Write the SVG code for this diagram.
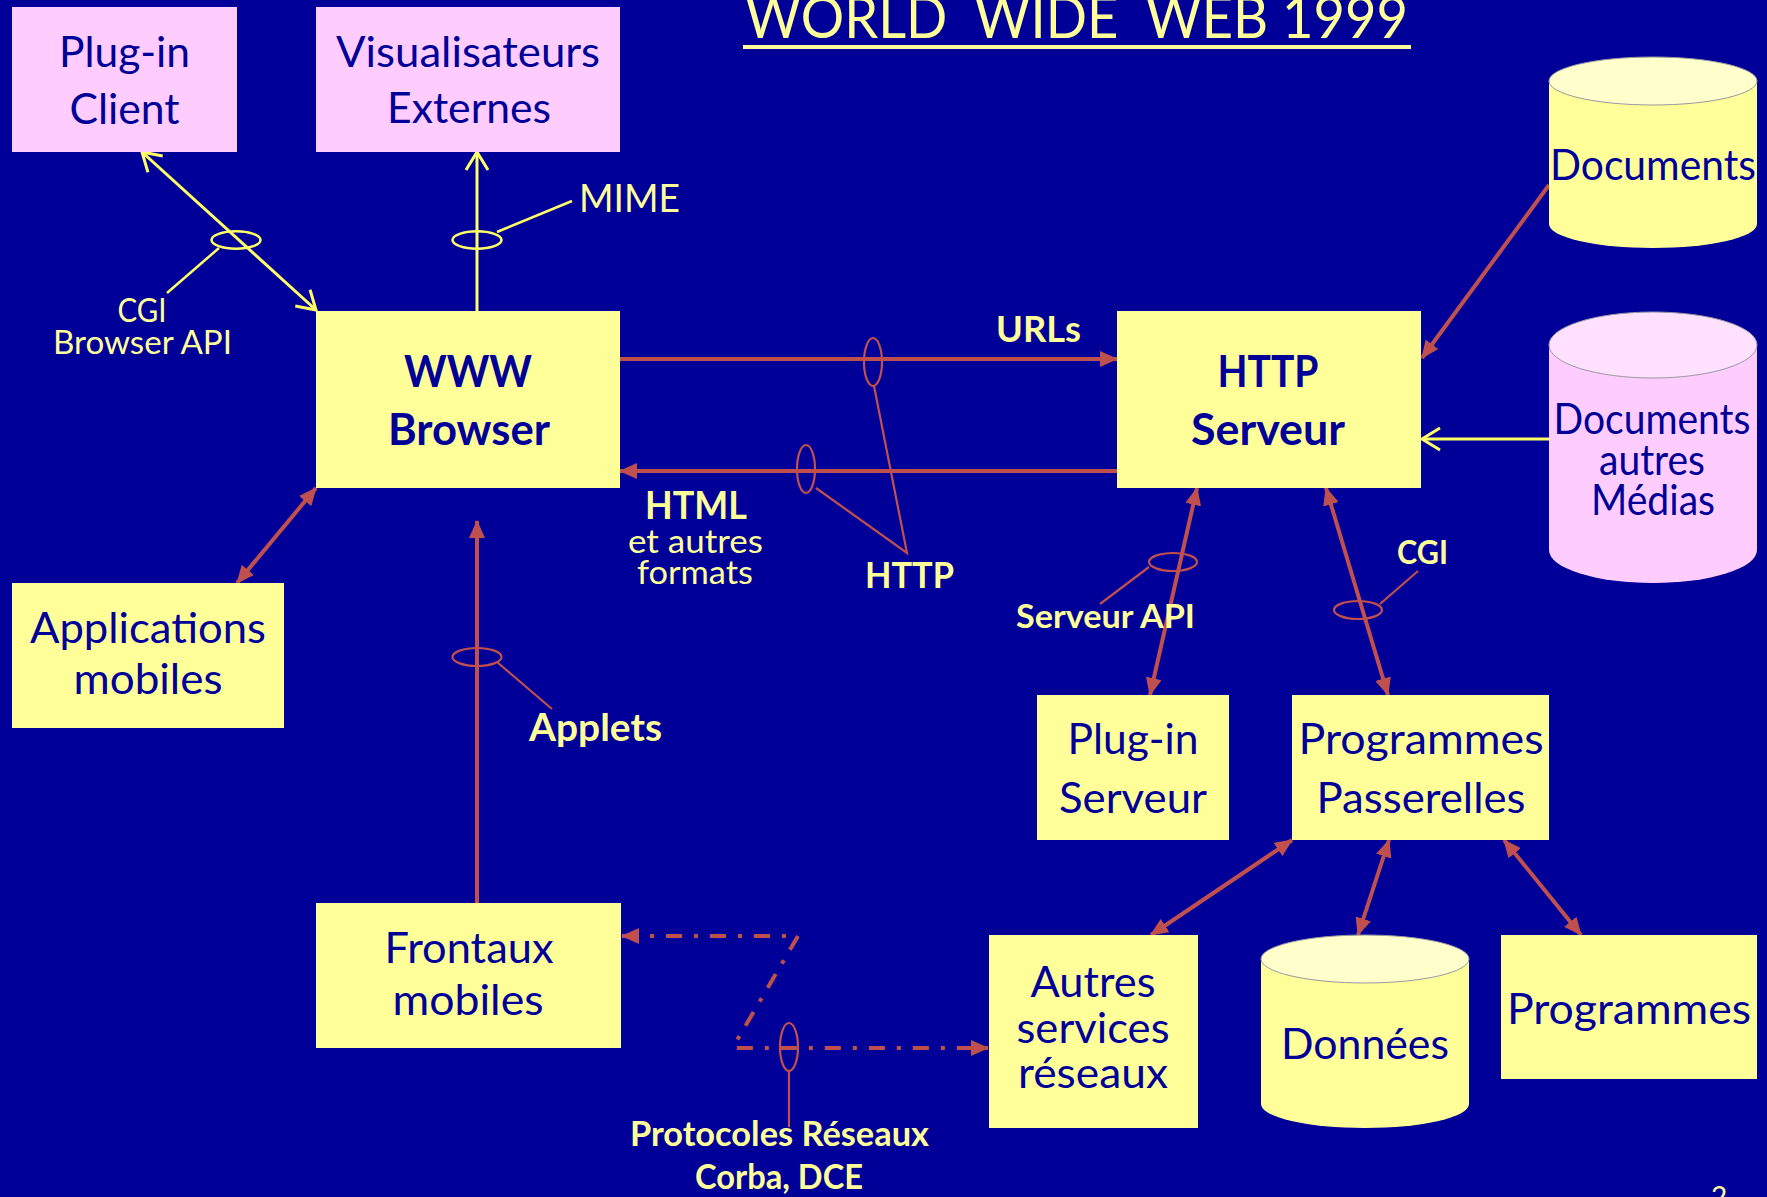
<svg xmlns="http://www.w3.org/2000/svg" width="1767" height="1197" viewBox="0 0 1767 1197">
<style>
text{font-family:Lato,"Liberation Sans",sans-serif}
.nt{fill:#000099;font-size:43px;text-anchor:middle}
.nb{fill:#000099;font-size:43px;font-weight:bold;text-anchor:middle}
.yb{fill:#FFFF99;font-weight:bold}
.yr{fill:#FFFF99}
.box{fill:#FFFF99}
.pink{fill:#FFCCFF}
.red{stroke:#C0504D;stroke-width:4;fill:none}
.redthin{stroke:#C0504D;stroke-width:2.2;fill:none}
.yel{stroke:#FFFF66;stroke-width:3;fill:none}
.yelthin{stroke:#FFFF66;stroke-width:2.5;fill:none}
.dash{stroke:#C0504D;stroke-width:4;fill:none;stroke-dasharray:16 12 4 12}
.topy{fill:#FFFFCC;stroke:#9999A0;stroke-width:1}
.topp{fill:#FFE0FF;stroke:#9999A0;stroke-width:1}
</style>
<defs>
<marker id="ar" markerUnits="userSpaceOnUse" markerWidth="18" markerHeight="16" viewBox="0 0 18 16" refX="17" refY="8" orient="auto-start-reverse">
<path d="M0,0 L18,8 L0,16 Z" fill="#C0504D"/>
</marker>
<marker id="ay" markerUnits="userSpaceOnUse" markerWidth="22" markerHeight="26" viewBox="0 0 22 26" refX="20" refY="13" orient="auto-start-reverse">
<path d="M2,2 L20,13 L2,24" fill="none" stroke="#FFFF66" stroke-width="3"/>
</marker>
</defs>
<rect width="1767" height="1197" fill="#000099"/>

<g id="title">
<text x="745" y="38" class="yr" font-size="58" xml:space="preserve" textLength="663" lengthAdjust="spacingAndGlyphs">WORLD  WIDE  WEB 1999</text>
<rect x="743" y="45" width="668" height="4" fill="#FFFF99"/>
</g>

<g id="connectors">
<line class="yel" x1="142" y1="152" x2="316" y2="310" marker-start="url(#ay)" marker-end="url(#ay)"/>
<ellipse class="yelthin" cx="236" cy="240" rx="24.5" ry="8.7"/>
<line class="yelthin" x1="219" y1="248" x2="167" y2="293"/>
<line class="yel" x1="477" y1="311" x2="477" y2="152" marker-end="url(#ay)"/>
<ellipse class="yelthin" cx="477" cy="240" rx="24.5" ry="8.7"/>
<line class="yelthin" x1="497" y1="232" x2="572" y2="201"/>
<line class="yel" x1="1549" y1="439" x2="1422" y2="439" marker-end="url(#ay)"/>

<line class="red" x1="620" y1="359" x2="1117" y2="359" marker-end="url(#ar)"/>
<line class="red" x1="1117" y1="471" x2="620" y2="471" marker-end="url(#ar)"/>
<ellipse class="redthin" cx="873" cy="362" rx="9" ry="24"/>
<ellipse class="redthin" cx="806" cy="469" rx="9" ry="24"/>
<polyline class="redthin" points="874,386 907,553 816,488"/>

<line class="red" x1="316" y1="488" x2="237" y2="583" marker-start="url(#ar)" marker-end="url(#ar)"/>
<line class="red" x1="477" y1="903" x2="477" y2="521" marker-end="url(#ar)"/>
<ellipse class="redthin" cx="477" cy="657" rx="24.5" ry="9"/>
<line class="redthin" x1="497" y1="662" x2="552" y2="709"/>

<line class="red" x1="1197" y1="488" x2="1150" y2="695" marker-start="url(#ar)" marker-end="url(#ar)"/>
<ellipse class="redthin" cx="1173" cy="562" rx="24" ry="9"/>
<line class="redthin" x1="1149" y1="567" x2="1100" y2="604"/>
<line class="red" x1="1326" y1="488" x2="1388" y2="695" marker-start="url(#ar)" marker-end="url(#ar)"/>
<ellipse class="redthin" cx="1358" cy="610" rx="24" ry="9"/>
<line class="redthin" x1="1380" y1="604" x2="1418" y2="571"/>

<line class="red" x1="1549" y1="185" x2="1422" y2="358" marker-end="url(#ar)"/>

<line class="red" x1="1292" y1="840" x2="1151" y2="935" marker-start="url(#ar)" marker-end="url(#ar)"/>
<line class="red" x1="1389" y1="840" x2="1358" y2="935" marker-start="url(#ar)" marker-end="url(#ar)"/>
<line class="red" x1="1504" y1="840" x2="1581" y2="935" marker-start="url(#ar)" marker-end="url(#ar)"/>

<path class="dash" d="M622,936 H798 L736,1042 L734,1048 H988" marker-start="url(#ar)" marker-end="url(#ar)"/>
<ellipse class="redthin" cx="789" cy="1047" rx="9" ry="24"/>
<line class="redthin" x1="789" y1="1071" x2="789" y2="1127"/>
</g>

<g id="plugin-client">
<rect class="pink" x="12" y="7" width="225" height="145"/>
<text class="nt" x="124.5" y="67" textLength="131" lengthAdjust="spacingAndGlyphs">Plug-in</text>
<text class="nt" x="124.5" y="124" textLength="110" lengthAdjust="spacingAndGlyphs">Client</text>
</g>

<g id="visualisateurs">
<rect class="pink" x="316" y="7" width="304" height="145"/>
<text class="nt" x="468" y="67" textLength="264" lengthAdjust="spacingAndGlyphs">Visualisateurs</text>
<text class="nt" x="469" y="123" textLength="164" lengthAdjust="spacingAndGlyphs">Externes</text>
</g>

<g id="www-browser">
<rect class="box" x="316" y="311" width="304" height="177"/>
<text class="nb" x="468" y="387" textLength="128" lengthAdjust="spacingAndGlyphs">WWW</text>
<text class="nb" x="469" y="445" textLength="162" lengthAdjust="spacingAndGlyphs">Browser</text>
</g>

<g id="http-serveur">
<rect class="box" x="1117" y="311" width="304" height="177"/>
<text class="nb" x="1268" y="387" textLength="101" lengthAdjust="spacingAndGlyphs">HTTP</text>
<text class="nb" x="1268" y="445" textLength="154" lengthAdjust="spacingAndGlyphs">Serveur</text>
</g>

<g id="documents">
<path class="box" d="M1549,81 V224 A104,24 0 0 0 1757,224 V81 Z"/>
<ellipse class="topy" cx="1653" cy="81" rx="104" ry="24"/>
<text class="nt" x="1653" y="180" font-size="41" textLength="206" lengthAdjust="spacingAndGlyphs">Documents</text>
</g>

<g id="documents-medias">
<path class="pink" d="M1549,345 V550 A104,33 0 0 0 1757,550 V345 Z"/>
<ellipse class="topp" cx="1653" cy="345" rx="104" ry="33"/>
<text class="nt" x="1652" y="434" font-size="40" textLength="197" lengthAdjust="spacingAndGlyphs">Documents</text>
<text class="nt" x="1652" y="475" font-size="40" textLength="106" lengthAdjust="spacingAndGlyphs">autres</text>
<text class="nt" x="1653" y="515" font-size="40" textLength="124" lengthAdjust="spacingAndGlyphs">Médias</text>
</g>

<g id="applications-mobiles">
<rect class="box" x="12" y="583" width="272" height="145"/>
<text class="nt" x="148" y="643" textLength="236" lengthAdjust="spacingAndGlyphs">Applications</text>
<text class="nt" x="148" y="694" textLength="149" lengthAdjust="spacingAndGlyphs">mobiles</text>
</g>

<g id="frontaux-mobiles">
<rect class="box" x="316" y="903" width="305" height="145"/>
<text class="nt" x="469" y="963" textLength="169" lengthAdjust="spacingAndGlyphs">Frontaux</text>
<text class="nt" x="468" y="1015" textLength="151" lengthAdjust="spacingAndGlyphs">mobiles</text>
</g>

<g id="plugin-serveur">
<rect class="box" x="1037" y="695" width="192" height="145"/>
<text class="nt" x="1133" y="754" textLength="131" lengthAdjust="spacingAndGlyphs">Plug-in</text>
<text class="nt" x="1133" y="813" textLength="148" lengthAdjust="spacingAndGlyphs">Serveur</text>
</g>

<g id="programmes-passerelles">
<rect class="box" x="1292" y="695" width="257" height="145"/>
<text class="nt" x="1421" y="754" textLength="245" lengthAdjust="spacingAndGlyphs">Programmes</text>
<text class="nt" x="1421" y="813" textLength="209" lengthAdjust="spacingAndGlyphs">Passerelles</text>
</g>

<g id="autres-services">
<rect class="box" x="989" y="935" width="209" height="193"/>
<text class="nt" x="1093" y="997" textLength="125" lengthAdjust="spacingAndGlyphs">Autres</text>
<text class="nt" x="1093" y="1043" textLength="153" lengthAdjust="spacingAndGlyphs">services</text>
<text class="nt" x="1093" y="1088" textLength="150" lengthAdjust="spacingAndGlyphs">réseaux</text>
</g>

<g id="donnees">
<path class="box" d="M1261,959 V1104 A104,24 0 0 0 1469,1104 V959 Z"/>
<ellipse class="topy" cx="1365" cy="959" rx="104" ry="24"/>
<text class="nt" x="1365" y="1059" textLength="168" lengthAdjust="spacingAndGlyphs">Données</text>
</g>

<g id="programmes">
<rect class="box" x="1501" y="935" width="256" height="144"/>
<text class="nt" x="1629" y="1024" textLength="244" lengthAdjust="spacingAndGlyphs">Programmes</text>
</g>

<g id="labels">
<text class="yr" x="579" y="212" font-size="38" textLength="101" lengthAdjust="spacingAndGlyphs">MIME</text>
<text class="yr" x="142" y="322" font-size="32" text-anchor="middle" textLength="49" lengthAdjust="spacingAndGlyphs">CGI</text>
<text class="yr" x="53" y="354" font-size="32" textLength="179" lengthAdjust="spacingAndGlyphs">Browser API</text>
<text class="yb" x="996" y="342" font-size="37" textLength="85" lengthAdjust="spacingAndGlyphs">URLs</text>
<text class="yb" x="645" y="519" font-size="38" textLength="102" lengthAdjust="spacingAndGlyphs">HTML</text>
<text class="yr" x="628" y="553" font-size="33" textLength="135" lengthAdjust="spacingAndGlyphs">et autres</text>
<text class="yr" x="637" y="584" font-size="33" textLength="116" lengthAdjust="spacingAndGlyphs">formats</text>
<text class="yb" x="865" y="588" font-size="37" textLength="89" lengthAdjust="spacingAndGlyphs">HTTP</text>
<text class="yb" x="529" y="741" font-size="38" textLength="133" lengthAdjust="spacingAndGlyphs">Applets</text>
<text class="yb" x="1016" y="628" font-size="33" textLength="179" lengthAdjust="spacingAndGlyphs">Serveur API</text>
<text class="yb" x="1397" y="564" font-size="33" textLength="51" lengthAdjust="spacingAndGlyphs">CGI</text>
<text class="yb" x="630" y="1146" font-size="34" textLength="299" lengthAdjust="spacingAndGlyphs">Protocoles Réseaux</text>
<text class="yb" x="695" y="1189" font-size="34" textLength="168" lengthAdjust="spacingAndGlyphs">Corba, DCE</text>
<text class="yr" x="1711" y="1207" font-size="28">2</text>
</g>
</svg>
